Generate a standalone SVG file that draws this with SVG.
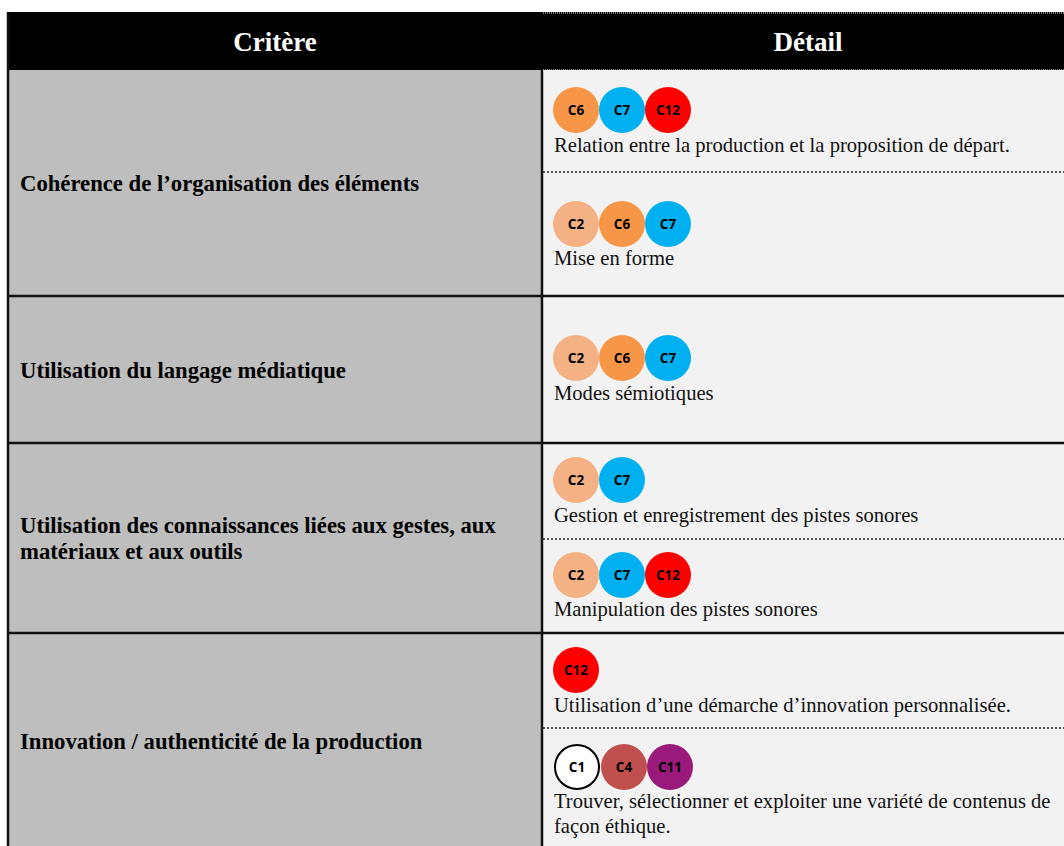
<svg xmlns="http://www.w3.org/2000/svg" width="1064" height="846" viewBox="0 0 1064 846">
<style>
.hd{font-family:"Liberation Serif","Times New Roman",serif;font-weight:bold;font-size:27px;fill:#fff}
.cr{font-family:"Liberation Serif","Times New Roman",serif;font-weight:bold;font-size:22.7px;fill:#000}
.dt{font-family:"Liberation Serif","Times New Roman",serif;font-size:20.6px;fill:#111}
.ct{font-family:"Open Sans","Liberation Sans",sans-serif;font-weight:bold;font-size:13.5px;fill:#000;text-anchor:middle}
.solid{stroke:#111;stroke-width:2.5;fill:none}
.dot{stroke:#222;stroke-width:1.5;stroke-dasharray:2 2;fill:none}
</style>
<defs>
<circle id="c" r="23"/>
</defs>
<rect x="0" y="0" width="1064" height="846" fill="#fff"/>
<g id="columns">
<rect x="7" y="70" width="535" height="776" fill="#bebebe"/>
<rect x="542" y="70" width="522" height="776" fill="#f2f2f2"/>
</g>
<g id="header">
<rect x="7" y="12" width="1057" height="58" fill="#000"/>
<text class="hd" x="275" y="51" text-anchor="middle">Critère</text>
<text class="hd" x="808" y="51" text-anchor="middle">Détail</text>
</g>
<g id="grid">
<line class="solid" x1="8" y1="12" x2="8" y2="846"/>
<line class="solid" x1="542" y1="70" x2="542" y2="846"/>
<line class="solid" x1="7" y1="296" x2="1064" y2="296"/>
<line class="solid" x1="7" y1="443" x2="1064" y2="443"/>
<line class="solid" x1="7" y1="633" x2="1064" y2="633"/>
<line class="dot" x1="543" y1="172" x2="1064" y2="172"/>
<line class="dot" x1="543" y1="539" x2="1064" y2="539"/>
<line class="dot" x1="543" y1="728" x2="1064" y2="728"/>
<line stroke="#fff" stroke-width="1" stroke-dasharray="1 1" x1="543" y1="13" x2="1064" y2="13"/>
<line stroke="#fff" stroke-width="1" stroke-dasharray="1 1" x1="543" y1="70" x2="1064" y2="70"/>
</g>
<g id="row1">
<text class="cr" x="20" y="191">Cohérence de l’organisation des éléments</text>
<g id="row1a">
<use href="#c" x="576" y="110" fill="#f79646"/><text class="ct" x="576" y="115">C6</text>
<use href="#c" x="622" y="110" fill="#00b0f0"/><text class="ct" x="622" y="115">C7</text>
<use href="#c" x="668" y="110" fill="#ff0000"/><text class="ct" x="668" y="115">C12</text>
<text class="dt" x="554" y="152">Relation entre la production et la proposition de départ.</text>
</g>
<g id="row1b">
<use href="#c" x="576" y="224" fill="#f4b183"/><text class="ct" x="576" y="229">C2</text>
<use href="#c" x="622" y="224" fill="#f79646"/><text class="ct" x="622" y="229">C6</text>
<use href="#c" x="668" y="224" fill="#00b0f0"/><text class="ct" x="668" y="229">C7</text>
<text class="dt" x="554" y="265">Mise en forme</text>
</g>
</g>
<g id="row2">
<text class="cr" x="20" y="378">Utilisation du langage médiatique</text>
<use href="#c" x="576" y="358" fill="#f4b183"/><text class="ct" x="576" y="363">C2</text>
<use href="#c" x="622" y="358" fill="#f79646"/><text class="ct" x="622" y="363">C6</text>
<use href="#c" x="668" y="358" fill="#00b0f0"/><text class="ct" x="668" y="363">C7</text>
<text class="dt" x="554" y="400">Modes sémiotiques</text>
</g>
<g id="row3">
<text class="cr" x="20" y="533">Utilisation des connaissances liées aux gestes, aux</text>
<text class="cr" x="20" y="559">matériaux et aux outils</text>
<g id="row3a">
<use href="#c" x="576" y="480" fill="#f4b183"/><text class="ct" x="576" y="485">C2</text>
<use href="#c" x="622" y="480" fill="#00b0f0"/><text class="ct" x="622" y="485">C7</text>
<text class="dt" x="554" y="522">Gestion et enregistrement des pistes sonores</text>
</g>
<g id="row3b">
<use href="#c" x="576" y="575" fill="#f4b183"/><text class="ct" x="576" y="580">C2</text>
<use href="#c" x="622" y="575" fill="#00b0f0"/><text class="ct" x="622" y="580">C7</text>
<use href="#c" x="668" y="575" fill="#ff0000"/><text class="ct" x="668" y="580">C12</text>
<text class="dt" x="554" y="616">Manipulation des pistes sonores</text>
</g>
</g>
<g id="row4">
<text class="cr" x="20" y="749">Innovation / authenticité de la production</text>
<g id="row4a">
<use href="#c" x="576" y="670" fill="#ff0000"/><text class="ct" x="576" y="675">C12</text>
<text class="dt" x="554" y="712">Utilisation d’une démarche d’innovation personnalisée.</text>
</g>
<g id="row4b">
<circle cx="577" cy="767" r="22" fill="#fff" stroke="#000" stroke-width="2"/><text class="ct" x="577" y="772">C1</text>
<use href="#c" x="624" y="767" fill="#c0504d"/><text class="ct" x="624" y="772">C4</text>
<use href="#c" x="670" y="767" fill="#991a7b"/><text class="ct" x="670" y="772">C11</text>
<text class="dt" x="554" y="808">Trouver, sélectionner et exploiter une variété de contenus de</text>
<text class="dt" x="554" y="833">façon éthique.</text>
</g>
</g>
</svg>
